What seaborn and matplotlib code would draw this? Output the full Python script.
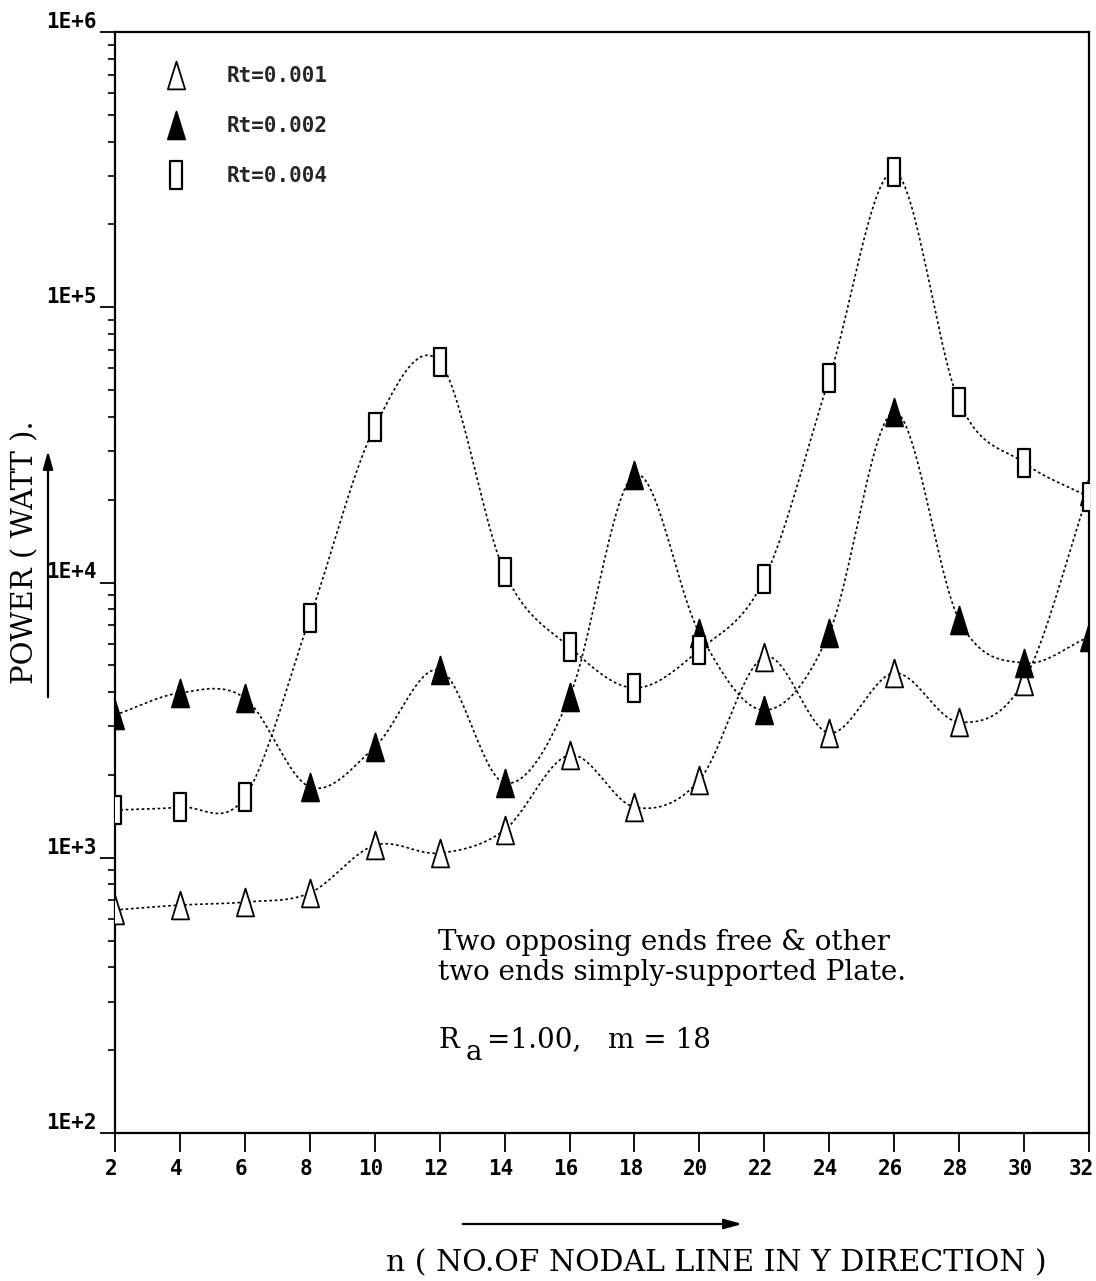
import numpy as np
import matplotlib
matplotlib.use("Agg")
import matplotlib.pyplot as plt
from matplotlib.path import Path
from matplotlib.lines import Line2D
from matplotlib.transforms import ScaledTranslation
from matplotlib.ticker import LogLocator, NullFormatter, FixedLocator
import seaborn as sns

# ---- data -------------------------------------------------------------
n_values = [2, 4, 6, 8, 10, 12, 14, 16, 18, 20, 22, 24, 26, 28, 30, 32]
power_rt001 = [646, 673, 690, 745, 1110, 1040, 1262, 2360, 1528, 1915,
               5360, 2840, 4690, 3110, 4400, 21500]
power_rt002 = [3300, 3970, 3800, 1808, 2525, 4810, 1870, 3840, 24600, 6560,
               3440, 6560, 41600, 7310, 5100, 6340]
power_rt004 = [1490, 1528, 1663, 7430, 36700, 63300, 10900, 5830, 4140, 5690,
               10300, 55300, 310000, 45300, 27200, 20450]
series_labels = ["Rt=0.001", "Rt=0.002", "Rt=0.004"]
x_ticks = [2, 4, 6, 8, 10, 12, 14, 16, 18, 20, 22, 24, 26, 28, 30, 32]
y_ticks = [1e2, 1e3, 1e4, 1e5, 1e6]
y_tick_labels = ["1E+2", "1E+3", "1E+4", "1E+5", "1E+6"]

# ---- style ------------------------------------------------------------
sns.set_theme(style="ticks")
plt.rcParams["font.family"] = ["DejaVu Sans Mono", "DejaVu Sans"]
plt.rcParams["axes.edgecolor"] = "black"
plt.rcParams["axes.linewidth"] = 1.6

W, H = 1096, 1281
fig = plt.figure(figsize=(W / 100, H / 100), dpi=100)
ax = fig.add_axes([115 / W, 1 - 1133 / H, (1089 - 115) / W, (1133 - 32) / H])
ax.set_yscale("log")


def catmull_rom(x, y, xs):
    """Cubic Hermite curve through (x, y) with Catmull-Rom tangents."""
    x = np.asarray(x, float)
    y = np.asarray(y, float)
    n = len(x)
    m = np.empty(n)
    m[1:-1] = (y[2:] - y[:-2]) / (x[2:] - x[:-2])
    m[0] = (y[1] - y[0]) / (x[1] - x[0])
    m[-1] = (y[-1] - y[-2]) / (x[-1] - x[-2])
    idx = np.clip(np.searchsorted(x, xs) - 1, 0, n - 2)
    h = x[idx + 1] - x[idx]
    t = (xs - x[idx]) / h
    h00 = 2 * t**3 - 3 * t**2 + 1
    h10 = t**3 - 2 * t**2 + t
    h01 = -2 * t**3 + 3 * t**2
    h11 = t**3 - t**2
    return h00 * y[idx] + h10 * h * m[idx] + h01 * y[idx + 1] + h11 * h * m[idx + 1]


# tall narrow markers
tri = Path([(-0.62, -1), (0.62, -1), (0, 1), (-0.62, -1)],
           [Path.MOVETO, Path.LINETO, Path.LINETO, Path.CLOSEPOLY])
rect = Path([(-0.4, -1), (0.4, -1), (0.4, 1), (-0.4, 1), (-0.4, -1)],
            [Path.MOVETO, Path.LINETO, Path.LINETO, Path.LINETO, Path.CLOSEPOLY])

marker_styles = [
    dict(marker=tri, ms=20, mfc="white", mec="black", mew=1.3),
    dict(marker=tri, ms=20, mfc="black", mec="black", mew=1.3),
    dict(marker=rect, ms=20, mfc="white", mec="black", mew=1.6),
]

xs = np.linspace(2, 32, 700)
for vals, mstyle in zip([power_rt001, power_rt002, power_rt004], marker_styles):
    smooth = 10 ** catmull_rom(n_values, np.log10(vals), xs)
    sns.lineplot(x=xs, y=smooth, ax=ax, color="black", lw=1.2,
                 linestyle=(0, (1.6, 1.6)), sort=False, zorder=2)
    ax.plot(n_values, vals, linestyle="none", zorder=3, **mstyle)

# ---- axes -------------------------------------------------------------
ax.set_xlim(2, 32)
ax.set_ylim(1e2, 1e6)
ax.xaxis.set_major_locator(FixedLocator(x_ticks))
ax.set_xticklabels([str(t) for t in x_ticks])
ax.set_yticks(y_ticks)
ax.set_yticklabels(y_tick_labels)
ax.yaxis.set_minor_locator(LogLocator(base=10, subs=np.arange(2, 10)))
ax.yaxis.set_minor_formatter(NullFormatter())
ax.tick_params(axis="x", direction="out", length=14, width=1.3, pad=5,
               labelsize=15, colors="black")
ax.tick_params(axis="y", which="major", direction="out", length=11, width=1.3,
               pad=2, labelsize=15, colors="black")
ax.tick_params(axis="y", which="minor", direction="out", length=5, width=1.2,
               colors="black")
xlabels = ax.get_xticklabels()
for i, lab in enumerate(xlabels):
    lab.set_fontweight("bold")
    shift = -8 if i == len(xlabels) - 1 else -4
    lab.set_transform(lab.get_transform()
                      + ScaledTranslation(shift / 100, 0, fig.dpi_scale_trans))
for lab in ax.get_yticklabels():
    lab.set_fontweight("bold")
    lab.set_va("bottom")
for side in ["top", "right", "left", "bottom"]:
    ax.spines[side].set_visible(True)
    ax.spines[side].set_color("black")
ax.grid(False)

# ---- legend -----------------------------------------------------------
handles = [Line2D([], [], linestyle="none", **m) for m in marker_styles]
ax.legend(handles, series_labels, loc="upper left",
          bbox_to_anchor=(166 / W, 1 - 66 / H), bbox_transform=fig.transFigure,
          frameon=False, borderpad=0, borderaxespad=0, handlelength=1.0,
          handletextpad=1.9, labelspacing=1.45,
          prop=dict(family="DejaVu Sans Mono", weight="bold", size=15))

# ---- annotations ------------------------------------------------------
serif = "DejaVu Serif"


def fig_text(x, y, s, **kw):
    """Place text by pixel position measured from the top-left corner."""
    return fig.text(x / W, 1 - y / H, s, family=serif, color="black", **kw)


fig_text(438, 943, "Two opposing ends free & other", fontsize=20, va="center")
fig_text(438, 972, "two ends simply-supported Plate.", fontsize=20, va="center")
fig_text(438, 1040, "R", fontsize=20, va="center")
fig_text(466, 1053, "a", fontsize=20, va="center")
fig_text(487, 1040, "=1.00,   m = 18", fontsize=20, va="center")

fig_text(716, 1263, "n ( NO.OF NODAL LINE IN Y DIRECTION )", fontsize=21.5,
         ha="center", va="center")
fig_text(25, 552, "POWER ( WATT ).", fontsize=21, rotation=90,
         ha="center", va="center")

# direction arrows beside the axis titles
arrow = dict(arrowstyle="-|>,head_length=0.9,head_width=0.25", color="black", lw=1.6)
ax.annotate("", xy=(745, H - 1224), xytext=(460, H - 1224),
            xycoords="figure pixels", textcoords="figure pixels",
            arrowprops=arrow, annotation_clip=False)
ax.annotate("", xy=(48, H - 448), xytext=(48, H - 700),
            xycoords="figure pixels", textcoords="figure pixels",
            arrowprops=arrow, annotation_clip=False)

fig.savefig("out.png", dpi=100, facecolor="white")
